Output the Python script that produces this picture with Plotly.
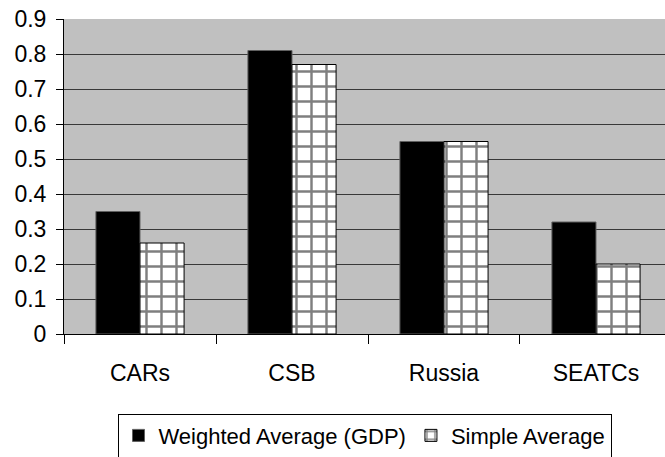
import plotly.graph_objects as go

categories = ["CARs", "CSB", "Russia", "SEATCs"]
weighted = [0.35, 0.81, 0.55, 0.32]
simple = [0.26, 0.77, 0.55, 0.20]
y_ticks = [0, 0.1, 0.2, 0.3, 0.4, 0.5, 0.6, 0.7, 0.8, 0.9]
y_labels = ["0", "0.1", "0.2", "0.3", "0.4", "0.5", "0.6", "0.7", "0.8", "0.9"]

fig = go.Figure()
fig.add_trace(go.Bar(
    x=categories, y=weighted, name="Weighted Average (GDP)",
    marker=dict(color="black", line=dict(color="#606060", width=1)),
))
fig.add_trace(go.Bar(
    x=categories, y=simple, name="Simple Average",
    marker=dict(color="white", line=dict(color="black", width=1),
                pattern=dict(shape="+", fgcolor="black", bgcolor="white",
                             size=15, solidity=0.3, fillmode="overlay")),
))

font = "Liberation Sans, Arial, sans-serif"
fig.update_layout(
    width=665, height=457,
    margin=dict(l=64, r=0, t=19, b=123),
    paper_bgcolor="white", plot_bgcolor="#C0C0C0",
    barmode="group", bargap=0.42, bargroupgap=0,
    font=dict(family=font, size=22, color="black"),
    showlegend=True,
    legend=dict(orientation="h", x=0.5, xanchor="center",
                yref="container", y=0.095, yanchor="top",
                bordercolor="black", borderwidth=1, font=dict(size=22),
                itemwidth=30, traceorder="normal"),
    xaxis=dict(range=[-0.5, 3.454], showline=True, linecolor="black", linewidth=1,
               ticks="outside", tickson="boundaries", ticklen=9, tickcolor="black",
               ticklabelstandoff=18, automargin=False,
               showgrid=False, tickfont=dict(size=23)),
    yaxis=dict(range=[0, 0.90002], tickvals=y_ticks, ticktext=y_labels,
               showline=True, linecolor="black", linewidth=1,
               ticks="outside", ticklen=7, tickcolor="black",
               ticklabelstandoff=5, automargin=False, ticklabeloverflow="allow",
               showgrid=True, gridcolor="#383838", gridwidth=1,
               zeroline=False, tickfont=dict(size=23)),
)
fig.write_html("out.html", config={"displayModeBar": False},
               post_script="document.body.style.margin='0';document.body.style.padding='0';")
